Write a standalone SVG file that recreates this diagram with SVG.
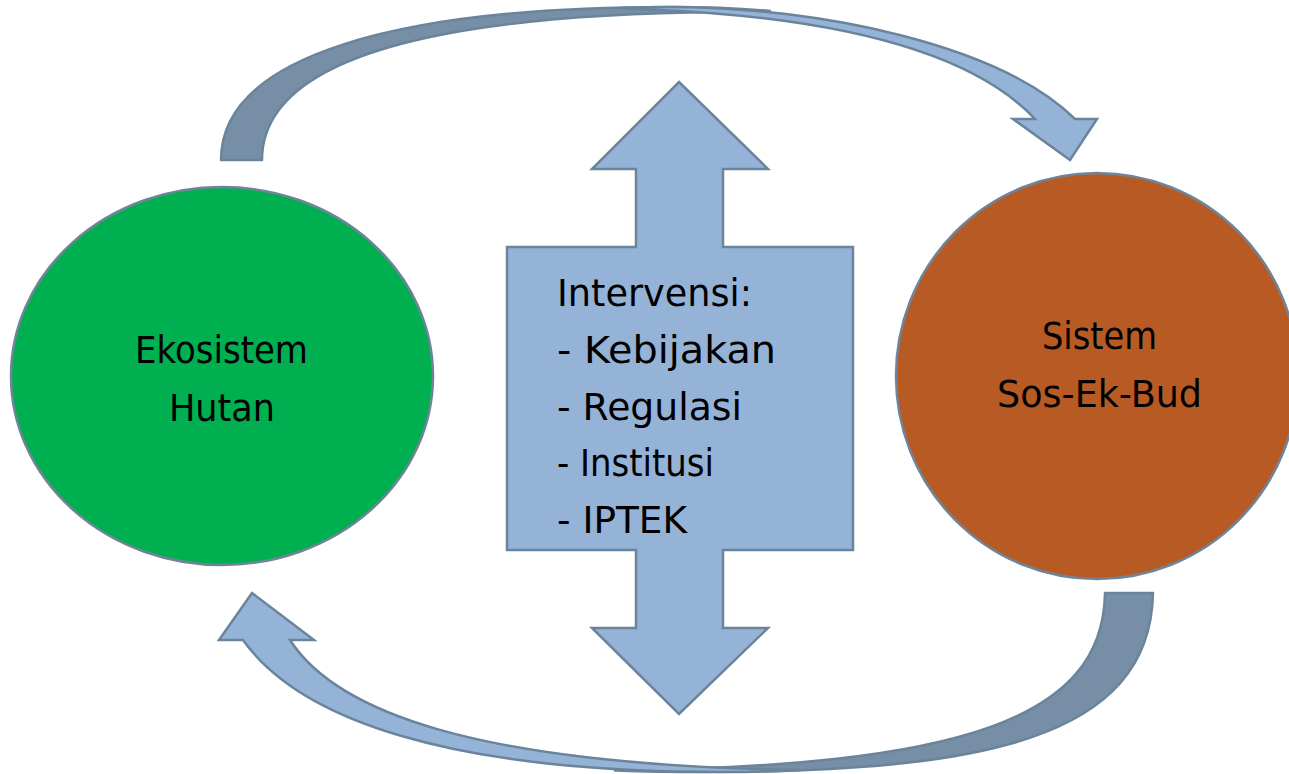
<svg xmlns="http://www.w3.org/2000/svg" width="1289" height="774" viewBox="0 0 1289 774">
  <style>
    .lbl { font-family: "DejaVu Sans", "Liberation Sans", sans-serif; font-size: 37px; fill: #000; }
    .band-back { fill: #768FA6; stroke: #6A849C; stroke-width: 2.5; stroke-linejoin: round; }
    .band-front { fill: #95B3D7; stroke: #6A849C; stroke-width: 2.5; stroke-linejoin: miter; }
    .node { stroke: #6F8499; stroke-width: 2.5; }
  </style>
  <rect width="1289" height="774" fill="#ffffff"/>

  <!-- curved connectors between the two systems -->
  <g id="connectors">
    <!-- upper curved arrow: Ekosistem Hutan -> Sistem Sos-Ek-Bud -->
    <path class="band-back" d="M221,160 C221,55 400,7 670,7 Q725,7 770,11 Q745,11 720,12 C410,15 262,65 262,160 Z"/>
    <path class="band-front" d="M620,8 Q645,7 670,7 C820,7 1000,45 1075,119 L1097,119 L1070,160 L1013,119 L1035,119 C970,50 830,17 650,9.5 Q635,8.5 620,8 Z"/>
    <!-- lower curved arrow: Sistem Sos-Ek-Bud -> Ekosistem Hutan -->
    <path class="band-back" d="M1153,593 C1150,740 980,772 700,772 Q660,772 615,770.5 C960,766 1103,720 1105,593 Z"/>
    <path class="band-front" d="M780,771 Q750,772 720,772 C450,772 300,720 243,640 L219,640 L252,593 L314,640 L290,640 C335,710 470,765 800,770 Q790,770.5 780,771 Z"/>
  </g>

  <!-- left node -->
  <g id="ekosistem-hutan">
    <ellipse class="node" cx="222" cy="376" rx="211" ry="189" fill="#00B050"/>
    <text class="lbl" x="135" y="363" textLength="173" lengthAdjust="spacingAndGlyphs">Ekosistem</text>
    <text class="lbl" x="169" y="421" textLength="106" lengthAdjust="spacingAndGlyphs">Hutan</text>
  </g>

  <!-- right node -->
  <g id="sistem-sos-ek-bud">
    <ellipse class="node" cx="1097" cy="376" rx="201" ry="203" fill="#B85A24"/>
    <text class="lbl" x="1042" y="349" textLength="115" lengthAdjust="spacingAndGlyphs">Sistem</text>
    <text class="lbl" x="997" y="407" textLength="205" lengthAdjust="spacingAndGlyphs">Sos-Ek-Bud</text>
  </g>

  <!-- central up-down arrow with interventions -->
  <g id="intervensi">
    <path class="band-front" d="M679,82 L768,169 L723,169 L723,247 L853,247 L853,550 L723,550 L723,628 L768,628 L679,714 L592,628 L636,628 L636,550 L507,550 L507,247 L636,247 L636,169 L592,169 Z"/>
    <text class="lbl" x="557" y="306" textLength="195" lengthAdjust="spacingAndGlyphs">Intervensi:</text>
    <text class="lbl" x="557" y="363" textLength="219" lengthAdjust="spacingAndGlyphs">- Kebijakan</text>
    <text class="lbl" x="557" y="420" textLength="185" lengthAdjust="spacingAndGlyphs">- Regulasi</text>
    <text class="lbl" x="557" y="476" textLength="157" lengthAdjust="spacingAndGlyphs">- Institusi</text>
    <text class="lbl" x="557" y="533" textLength="130" lengthAdjust="spacingAndGlyphs">- IPTEK</text>
  </g>
</svg>
